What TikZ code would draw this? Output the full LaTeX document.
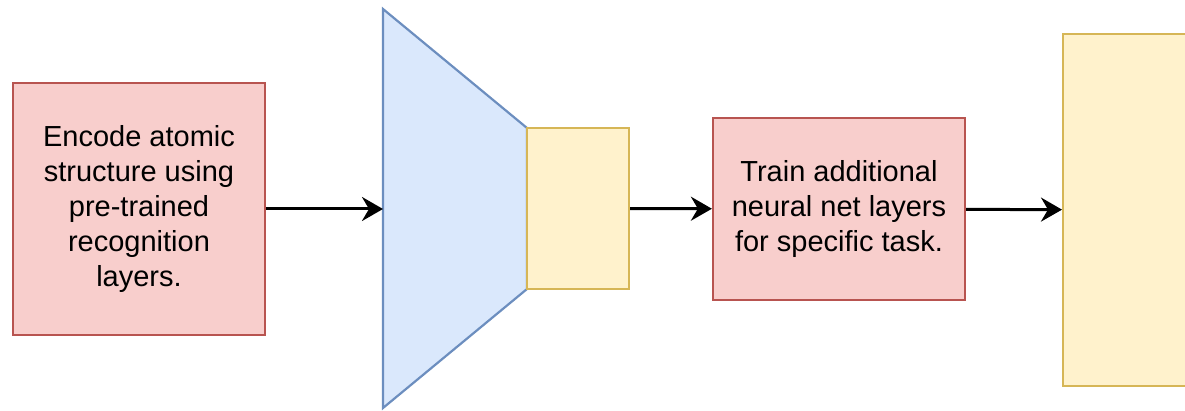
\documentclass[tikz,border=0pt]{standalone}
\usepackage{fontspec}
\setmainfont{Liberation Sans}
\usetikzlibrary{arrows.meta,positioning}
\definecolor{redfill}{HTML}{F8CECC}
\definecolor{reddraw}{HTML}{B85450}
\definecolor{bluefill}{HTML}{DAE8FC}
\definecolor{bluedraw}{HTML}{6C8EBF}
\definecolor{yelfill}{HTML}{FFF2CC}
\definecolor{yeldraw}{HTML}{D6B656}
\begin{document}
\begin{tikzpicture}[
    x=0.5pt,y=-0.5pt,
    redbox/.style={rectangle,draw=reddraw,fill=redfill,line width=1.1pt,
      minimum width=126pt,align=center,font=\fontsize{14.5}{17.5}\selectfont},
    yelbox/.style={rectangle,draw=yeldraw,fill=yelfill,line width=1.1pt},
    arrow/.style={-{Stealth[length=10.5pt,width=12pt,inset=3.5pt]},line width=1.5pt}
  ]
    \useasboundingbox (0,0) rectangle (1185,411);
    \clip (0,0) rectangle (1185,411);
    \node[redbox,minimum height=126pt] (encode) at (139,209)
      {Encode atomic\\structure using\\pre-trained\\recognition\\layers.};
    % encoder trapezoid
    \coordinate (trapnw) at (383,9);
    \coordinate (trapne) at (527,128);
    \coordinate (trapse) at (527,289);
    \coordinate (trapsw) at (383,408);
    \coordinate (trapin) at (383,209);
    \draw[draw=bluedraw,fill=bluefill,line width=1.1pt]
      (trapnw) -- (trapne) -- (trapse) -- (trapsw) -- cycle;
    \node[yelbox,minimum width=51pt,minimum height=80.5pt] (feat) at (578,208.5) {};
    \node[redbox,minimum height=91pt] (train) at (839,209)
      {Train additional\\neural net layers\\for specific task.};
    \node[yelbox,minimum width=150pt,minimum height=176pt,anchor=north west] (output) at (1062,33) {};
    \draw[arrow] (encode) -- (trapin);
    \draw[arrow] (feat) -- (train);
    \draw[arrow] (train) -- (output);
  \end{tikzpicture}
\end{document}
